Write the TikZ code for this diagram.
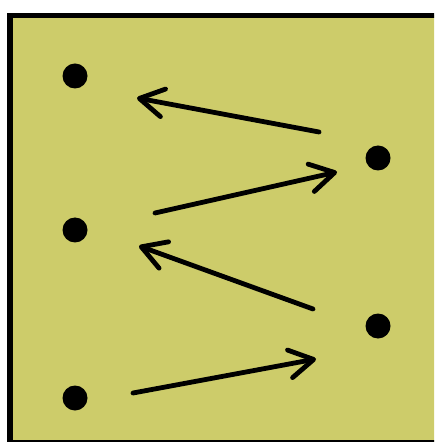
\documentclass[tikz,border=0pt]{standalone}
\usepackage{xcolor}
\usepackage{tikz}
\usetikzlibrary{arrows.meta, positioning}
\definecolor{zaitun}{RGB}{205,204,106}
\tikzset{
  latar/.style={draw=black, line width=2.6pt, fill=zaitun},
  titik/.style={circle, fill=black, inner sep=0pt, minimum size=12.5pt},
  panah/.style={-{Straight Barb[length=12pt, width=14pt, round]}, line width=2.4pt,
    line cap=round, black}
}

\begin{document}
\begin{tikzpicture}[x=0.5pt, y=-0.5pt]
  \clip (0,0) rectangle (434,442);
  \fill[white] (0,0) rectangle (434,442);
  \draw[latar] (10,15.5) rectangle (470,443);
  % titik kiri dan kanan
  \node[titik] (k1) at (75,76) {};
  \node[titik] (k2) at (75,230) {};
  \node[titik] (k3) at (75,398) {};
  \node[titik] (n1) at (378,158) {};
  \node[titik] (n2) at (378,326) {};
  % ujung panah
  \coordinate (a1) at ([shift={(-59,-26)}]n1.center);
  \coordinate (b1) at ([shift={(62,22)}]k1.center);
  \coordinate (a2) at ([shift={(80,-17)}]k2.center);
  \coordinate (b2) at ([shift={(-41,14)}]n1.center);
  \coordinate (a3) at ([shift={(-65,-17)}]n2.center);
  \coordinate (b3) at ([shift={(64,16)}]k2.center);
  \coordinate (a4) at ([shift={(58,-5)}]k3.center);
  \coordinate (b4) at ([shift={(-62,33)}]n2.center);
  \draw[panah] (a1) -- (b1);
  \draw[panah] (a2) -- (b2);
  \draw[panah] (a3) -- (b3);
  \draw[panah] (a4) -- (b4);
\end{tikzpicture}
\end{document}
